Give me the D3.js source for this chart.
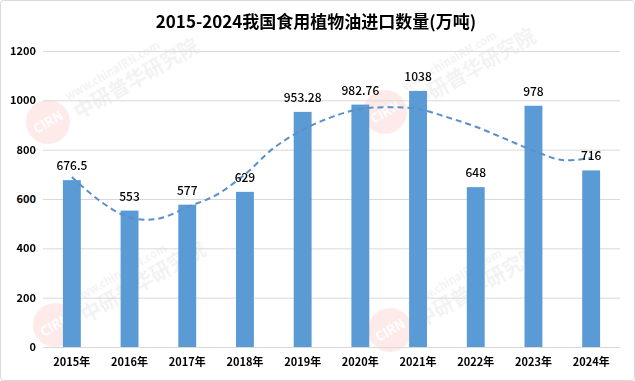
<!DOCTYPE html>
<html><head><meta charset="utf-8">
<script src="https://cdn.jsdelivr.net/npm/d3@7/dist/d3.min.js"></script>
<style>
html,body{margin:0;padding:0;background:#fff;}
svg{display:block;}
</style></head>
<body>
<svg id="chart" width="635" height="381"></svg>
<script>
const title = "2015-2024我国食用植物油进口数量(万吨)";
const categories = ["2015年","2016年","2017年","2018年","2019年","2020年","2021年","2022年","2023年","2024年"];
const values = [676.5, 553, 577, 629, 953.28, 982.76, 1038, 648, 978, 716];
const valueLabels = ["676.5","553","577","629","953.28","982.76","1038","648","978","716"];
const yTicks = [0, 200, 400, 600, 800, 1000, 1200];
// trendline at half-category steps (index positions)
const trendIndex = [0,0.5,1,1.5,2,2.5,3,3.5,4,4.5,5,5.5,6,6.5,7,7.5,8,8.5,9];
const trendValues = [689,590,525,520,567,616,700,807,880,932,965,972,965,932,893,845,796,758,766];
// watermark anchors (decorative)
const marks = [[48,122],[385,112],[55,325],[390,330]];

const svg = d3.select("#chart");
const W = 635, H = 381;
const font = "'Noto Sans CJK SC','Noto Sans',sans-serif";

svg.append("rect").attr("x",0.5).attr("y",0.5).attr("width",W-1).attr("height",H-1)
  .attr("rx",3).attr("fill","#fff").attr("stroke","#d9d9d9");

const x = d3.scaleBand().domain(categories).range([43,620]).paddingInner(0.69).paddingOuter(0.345);
const y = d3.scaleLinear().domain([0,1200]).range([347,51]);
const xi = d3.scaleLinear().domain([0, categories.length-1])
  .range([x(categories[0])+x.bandwidth()/2, x(categories[categories.length-1])+x.bandwidth()/2]);

// watermarks
const wm = svg.append("g").attr("opacity",0.11);
marks.forEach(([mx,my])=>{
  const g = wm.append("g").attr("transform",`translate(${mx},${my}) rotate(-30)`);
  g.append("circle").attr("r",22).attr("fill","#e8463a");
  g.append("text").attr("text-anchor","middle").attr("dy","0.35em").attr("fill","#fff")
    .attr("font-family",font).attr("font-weight","bold").attr("font-size",13).text("CIRN");
  g.append("text").attr("x",28).attr("y",-8).attr("fill","#888").attr("font-family",font)
    .attr("font-weight","bold").attr("font-size",11).text("www.chinaIRN.com");
  g.append("text").attr("x",28).attr("y",14).attr("fill","#888").attr("font-family",font)
    .attr("font-weight","bold").attr("font-size",20).text("中研普华研究院");
});

// gridlines
const yAxis = d3.axisLeft(y).tickValues(yTicks).tickSize(-(620-43)).tickPadding(8).tickFormat(d3.format("d"));
const ga = svg.append("g").attr("transform","translate(43,0)").call(yAxis);
ga.select(".domain").remove();
ga.selectAll(".tick line").attr("stroke","#d9d9d9").attr("stroke-width",1);
ga.selectAll(".tick text").attr("font-family",font).attr("font-size",11).attr("font-weight","bold")
  .attr("fill","#000").attr("x",-7);

// bars
svg.append("g").selectAll("rect").data(values).join("rect")
  .attr("x",(d,i)=>x(categories[i])).attr("width",x.bandwidth())
  .attr("y",d=>y(d)).attr("height",d=>y(0)-y(d)).attr("fill","#5B9BD5");

// x axis
const xAxis = d3.axisBottom(x).tickSize(0).tickPadding(11);
const gx = svg.append("g").attr("transform","translate(0,347)").call(xAxis);
gx.select(".domain").attr("stroke","#d9d9d9");
gx.selectAll(".tick text").attr("font-family",font).attr("font-size",11).attr("font-weight","bold").attr("fill","#000");

// trendline
const line = d3.line().x((d,i)=>xi(trendIndex[i])).y(d=>y(d)).curve(d3.curveCatmullRom.alpha(0.5));
svg.append("path").datum(trendValues).attr("d",line).attr("fill","none")
  .attr("stroke","#5b8fc9").attr("stroke-width",2).attr("stroke-dasharray","6,4");

// value labels
svg.append("g").selectAll("text").data(values).join("text")
  .attr("x",(d,i)=>x(categories[i])+x.bandwidth()/2).attr("y",d=>y(d)-10)
  .attr("text-anchor","middle").attr("font-family",font).attr("font-size",12)
  .attr("font-weight","500").attr("fill","#000").text((d,i)=>valueLabels[i]);

// title
svg.append("text").attr("x",316).attr("y",28).attr("text-anchor","middle")
  .attr("font-family",font).attr("font-size",17).attr("font-weight","bold").attr("fill","#000").text(title);
</script>
</body></html>
